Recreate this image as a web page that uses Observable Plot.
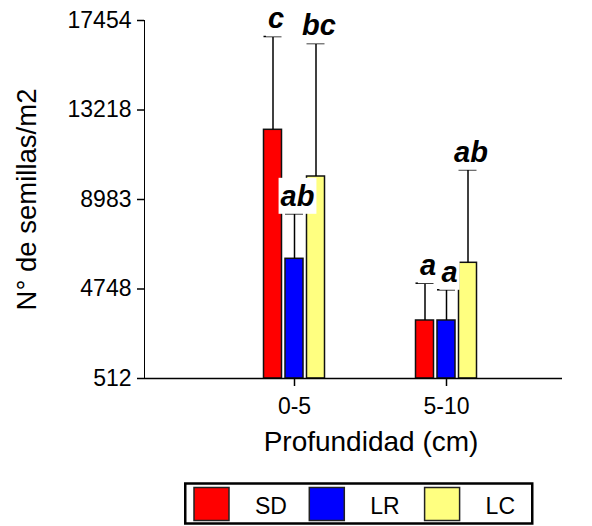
<!DOCTYPE html>
<html><head><meta charset="utf-8">
<script src="https://cdn.jsdelivr.net/npm/d3@7"></script>
<script src="https://cdn.jsdelivr.net/npm/@observablehq/plot@0.6"></script>
<style>
body{margin:0;background:#fff;}
#chart svg{display:block;}
g[aria-label^="y-axis"] line, g[aria-label^="y-axis"] path,
g[aria-label^="x-axis"] line, g[aria-label^="x-axis"] path {stroke-width:1.5px;}
</style></head><body><div id="chart"></div>
<script>
const depths = ["0-5", "5-10"];
const series = ["SD", "LR", "LC"];
const colors = ["#ff0000", "#0000ff", "#ffff80"];
const meanSD = [12281, 3257];
const meanLR = [6177, 3257];
const meanLC = [10071, 5987];
const errSD = [16697, 5022];
const errLR = [8306, 4710];
const errLC = [16366, 10388];
const letterSD = ["c", "a"];
const letterLR = ["ab", "a"];
const letterLC = ["bc", "ab"];
const yTicks = [512, 4748, 8983, 13218, 17454];
const xTitle = "Profundidad (cm)";
const yTitle = "N° de semillas/m2";

const means = [meanSD, meanLR, meanLC];
const errs = [errSD, errLR, errLC];
const letters = [letterSD, letterLR, letterLC];
const yMin = yTicks[0], yMax = yTicks[yTicks.length - 1];
const FONT = "'Liberation Sans', Arial, sans-serif";

const marks = [];
series.forEach((s, i) => {
  const rows = depths.map((d, j) => ({depth: d, series: s, mean: means[i][j], err: errs[i][j], letter: letters[i][j]}));
  const dx = (i - 1) * 21.5;
  marks.push(Plot.barY(rows, {x: "depth", y1: () => yMin, y2: "mean", dx, fill: colors[i], stroke: "#111", strokeWidth: 1.5}));
  marks.push(Plot.ruleX(rows, {x: "depth", y1: "mean", y2: "err", dx, stroke: "#000", strokeWidth: 1.5}));
  marks.push(Plot.tickY(rows, {x: "depth", y: "err", dx, stroke: "#000", strokeWidth: 1.5}));
  marks.push({rows, dx});
});
const labelMarks = marks.filter(m => m.rows).map(m =>
  Plot.text(m.rows, {x: "depth", y: "err", text: "letter", dx: m.dx + 3, dy: -8, lineAnchor: "bottom",
    fontSize: 29, fontWeight: "bold", fontStyle: "italic", fill: "#000"}));
const plotMarks = marks.filter(m => !m.rows);

const chart = Plot.plot({
  width: 592, height: 470,
  marginLeft: 144, marginRight: 30, marginTop: 20, marginBottom: 92,
  style: {fontFamily: FONT, fontSize: "23px", color: "#000", background: "#fff", overflow: "visible"},
  x: {domain: depths, paddingInner: 0.8816, paddingOuter: 0.8158, align: 0.5698, tickSize: 8, tickPadding: 11, label: null},
  y: {domain: [yMin, yMax], ticks: yTicks, tickSize: 7, tickPadding: 6, tickFormat: d => String(d), label: null, line: true},
  marks: [
    ...plotMarks,
    Plot.ruleY([yMin], {stroke: "#000", strokeWidth: 1.5}),
    Plot.text([xTitle], {frameAnchor: "bottom", text: d => d, dx: 17.5, dy: 72.7, lineAnchor: "bottom", textAnchor: "middle", fontSize: 28}),
    Plot.text([yTitle], {frameAnchor: "left", text: d => d, rotate: -90, dx: -109, lineAnchor: "bottom", textAnchor: "middle", fontSize: 27.5}),
    ...labelMarks
  ]
});
document.getElementById("chart").append(chart);

// white boxes behind the significance letters
d3.select(chart).selectAll('g[font-style="italic"] text').each(function() {
  const b = this.getBBox();
  const pad = 2;
  const r = document.createElementNS("http://www.w3.org/2000/svg", "rect");
  r.setAttribute("x", b.x - pad); r.setAttribute("y", b.y - pad);
  r.setAttribute("width", b.width + 2 * pad); r.setAttribute("height", b.height + 2 * pad);
  r.setAttribute("fill", "#fff"); r.setAttribute("stroke", "none");
  const t = this.getAttribute("transform");
  if (t) r.setAttribute("transform", t);
  this.parentNode.insertBefore(r, this);
});

// legend
const leg = d3.select("#chart").append("svg").attr("width", 592).attr("height", 56)
  .style("display", "block").style("font-family", FONT);
leg.append("rect").attr("x", 185.25).attr("y", 13.5).attr("width", 347).attr("height", 40)
  .attr("fill", "#fff").attr("stroke", "#000").attr("stroke-width", 2.5);
series.forEach((s, i) => {
  const x0 = 194 + i * 115.3;
  leg.append("rect").attr("x", x0).attr("y", 17.5).attr("width", 35).attr("height", 33)
    .attr("fill", colors[i]).attr("stroke", "#222").attr("stroke-width", 1.5);
  leg.append("text").attr("x", x0 + 61).attr("y", 44.3).attr("font-size", 23).attr("fill", "#000").text(s);
});
</script></body></html>
